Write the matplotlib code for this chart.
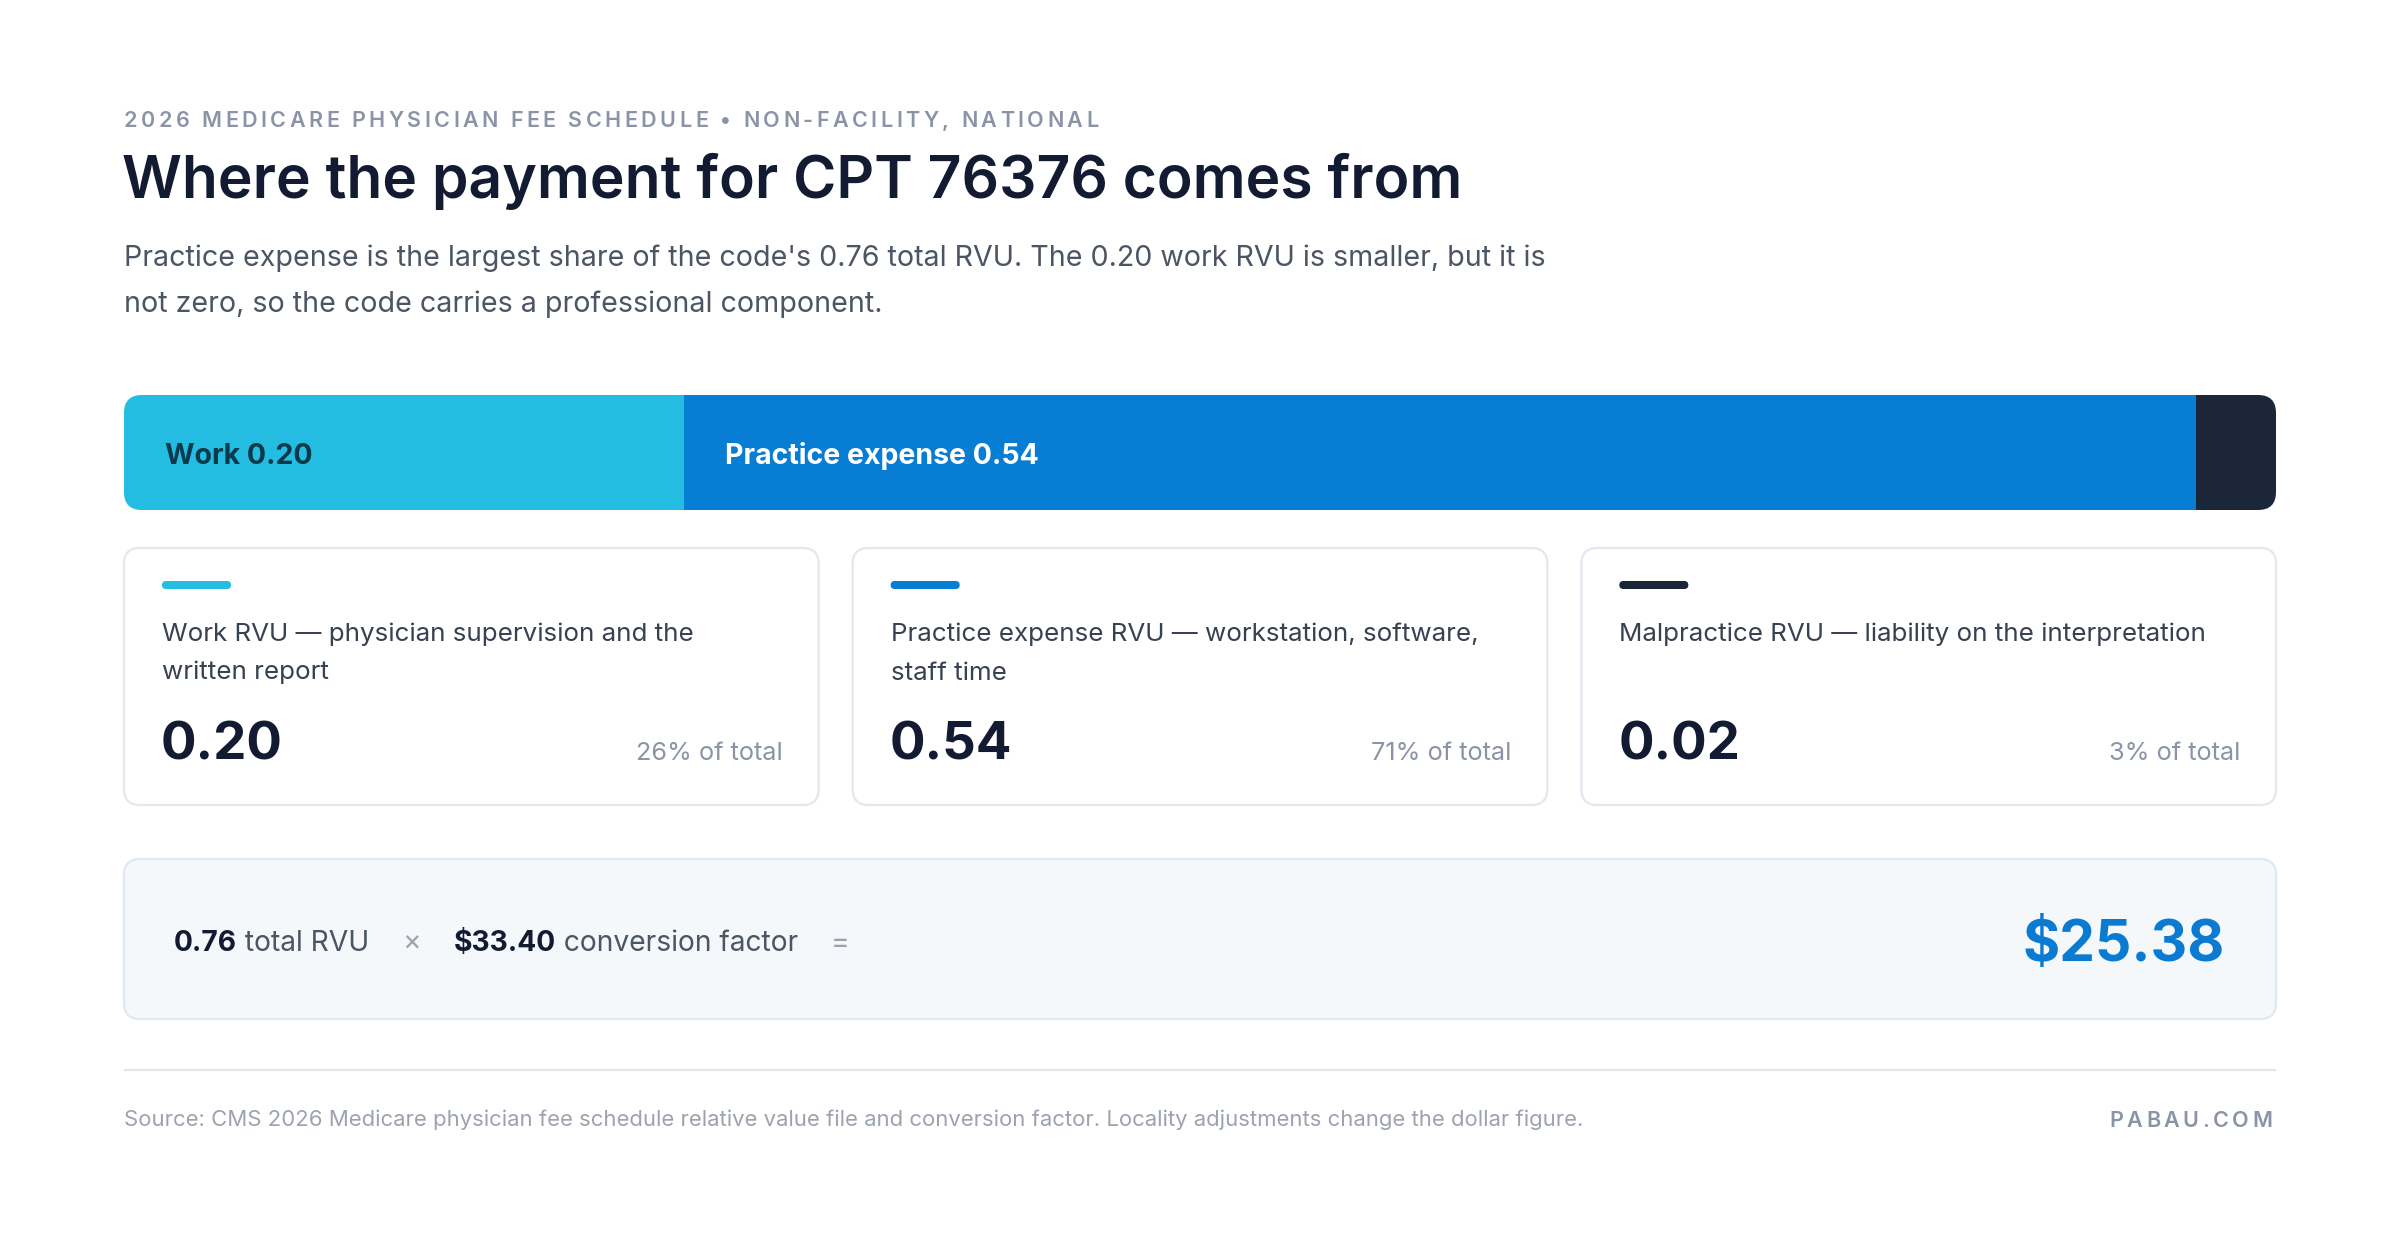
import matplotlib
matplotlib.use("Agg")
import matplotlib.pyplot as plt
from matplotlib.patches import FancyBboxPatch
from matplotlib.font_manager import FontProperties

# ---------------- data ----------------
components = ["Work", "Practice expense", "Malpractice"]
rvu_values = [0.20, 0.54, 0.02]
card_labels = [
    "Work RVU — physician supervision and the\nwritten report",
    "Practice expense RVU — workstation, software,\nstaff time",
    "Malpractice RVU — liability on the interpretation",
]
conversion_factor = 33.40
eyebrow = "2026 MEDICARE PHYSICIAN FEE SCHEDULE • NON-FACILITY, NATIONAL"
title = "Where the payment for CPT 76376 comes from"
subtitle_lines = [
    "Practice expense is the largest share of the code's 0.76 total RVU. The 0.20 work RVU is smaller, but it is",
    "not zero, so the code carries a professional component.",
]
source = ("Source: CMS 2026 Medicare physician fee schedule relative value file and conversion factor. "
          "Locality adjustments change the dollar figure.")
brand = "PABAU.COM"

# ---------------- style ----------------
FONT = ["Inter", "DejaVu Sans"]
seg_colors = ["#24BCE1", "#077ED4", "#1C2639"]
label_colors = ["#0B3A4C", "#FFFFFF", "#FFFFFF"]
NAVY = "#131B33"
GRAY_TXT = "#4B5563"
CARD_TXT = "#374151"
MUTED = "#8A94A6"
BORDER = "#E2E8F0"
MIN_SEGMENT = 0.0286  # visual minimum width of a segment (RVU units)

W, H = 2400, 1238
PT = 0.72  # px -> pt at dpi 100

fig = plt.figure(figsize=(W / 100, H / 100), dpi=100)
fig.patch.set_facecolor("white")
ax = fig.add_axes([0, 0, 1, 1])
ax.set_xlim(0, W)
ax.set_ylim(H, 0)
ax.axis("off")
renderer = fig.canvas.get_renderer()


def fp(size, weight="normal"):
    return FontProperties(family=FONT, size=size, weight=weight)


def text_w(s, size, weight="normal"):
    w, h, d = renderer.get_text_width_height_descent(s, fp(size, weight), ismath=False)
    return w


def spaced(x, y, s, size, weight, color, spacing, ha="left"):
    base = text_w("||", size, weight)
    widths = [text_w("|" + c + "|", size, weight) - base for c in s]
    total = sum(widths) + spacing * (len(s) - 1)
    if ha == "right":
        x -= total
    for c, w in zip(s, widths):
        ax.text(x, y, c, fontproperties=fp(size, weight), color=color, ha="left", va="baseline")
        x += w + spacing


LEFT, RIGHT = 124, 2276
FULLW = RIGHT - LEFT

# ---------------- header ----------------
spaced(LEFT, 127, eyebrow, 15.5, "semibold", MUTED, 3.45)
ax.text(LEFT - 2, 198, title, fontproperties=fp(42.3, "semibold"), color=NAVY, ha="left", va="baseline")
for i, line in enumerate(subtitle_lines):
    ax.text(LEFT, 266 + i * 46, line, fontproperties=fp(20.6), color=GRAY_TXT, ha="left", va="baseline")

# ---------------- stacked bar ----------------
total = sum(rvu_values)
bar_widths = [max(v, MIN_SEGMENT) for v in rvu_values]
lefts = [sum(bar_widths[:i]) for i in range(len(bar_widths))]
BAR_TOP, BAR_BOT = 395, 510
bax = fig.add_axes([LEFT / W, 1 - BAR_BOT / H, FULLW / W, (BAR_BOT - BAR_TOP) / H])
bax.set_xlim(0, sum(bar_widths))
bax.set_ylim(-0.5, 0.5)
bax.axis("off")
bars = bax.barh(0, bar_widths, left=lefts, height=1.0, color=seg_colors, linewidth=0)
clip = FancyBboxPatch((LEFT, BAR_TOP), FULLW, BAR_BOT - BAR_TOP,
                      boxstyle="round,pad=0,rounding_size=18", transform=ax.transData)
for b in bars:
    b.set_clip_path(clip)
for name, v, l, c in zip(components, rvu_values, lefts, label_colors):
    if v / total > 0.1:
        bax.annotate(f"{name} {v:.2f}", xy=(l, 0), xytext=(41 * PT, -11.5 * PT),
                     textcoords="offset points", fontproperties=fp(20.5, "bold"),
                     color=c, ha="left", va="baseline")

# ---------------- cards ----------------
GAP = 34
CW = (FULLW - 2 * GAP) / 3
CT, CB = 548, 805
for i, (lab, v, col) in enumerate(zip(card_labels, rvu_values, seg_colors)):
    x0 = LEFT + i * (CW + GAP)
    ax.add_patch(FancyBboxPatch((x0, CT), CW, CB - CT, boxstyle="round,pad=0,rounding_size=16",
                                facecolor="white", edgecolor=BORDER, linewidth=1.6))
    ax.add_patch(FancyBboxPatch((x0 + 38, 581), 69, 8, boxstyle="round,pad=0,rounding_size=4",
                                facecolor=col, edgecolor="none"))
    for j, line in enumerate(lab.split("\n")):
        ax.text(x0 + 38, 641 + j * 38.5, line, fontproperties=fp(18.7), color=CARD_TXT,
                ha="left", va="baseline")
    ax.text(x0 + 37, 759, f"{v:.2f}", fontproperties=fp(38, "bold"), color=NAVY,
            ha="left", va="baseline")
    ax.text(x0 + CW - 36, 760, f"{round(v / total * 100):.0f}% of total", fontproperties=fp(18.2),
            color=MUTED, ha="right", va="baseline")

# ---------------- formula box ----------------
FT, FB = 859, 1019
ax.add_patch(FancyBboxPatch((LEFT, FT), FULLW, FB - FT, boxstyle="round,pad=0,rounding_size=16",
                            facecolor="#F4F8FB", edgecolor=BORDER, linewidth=1.6))
FS = 20.3
pieces = [
    [(f"{total:.2f}", "bold", NAVY), (" total RVU", "normal", GRAY_TXT)],
    [("×", "normal", "#9CA3AF")],
    [(f"${conversion_factor:.2f}", "bold", NAVY), (" conversion factor", "normal", GRAY_TXT)],
    [("=", "normal", "#9CA3AF")],
]
x = 174
for group in pieces:
    for s, wt, col in group:
        ax.text(x, 951, s, fontproperties=fp(FS, wt), color=col, ha="left", va="baseline")
        x += text_w(s, FS, wt)
    x += 33
payment = total * conversion_factor
ax.text(2225, 961, f"${payment:.2f}", fontproperties=fp(41, "bold"), color="#0A7BD1",
        ha="right", va="baseline")

# ---------------- footer ----------------
ax.plot([LEFT, RIGHT], [1070, 1070], color="#E5E7EB", linewidth=1.5, solid_capstyle="butt")
ax.text(LEFT, 1126, source, fontproperties=fp(15.9), color="#9CA3AF", ha="left", va="baseline")
spaced(RIGHT - 4, 1127, brand, 15.5, "semibold", MUTED, 3.5, ha="right")

fig.savefig("out.png", dpi=100, facecolor="white")
